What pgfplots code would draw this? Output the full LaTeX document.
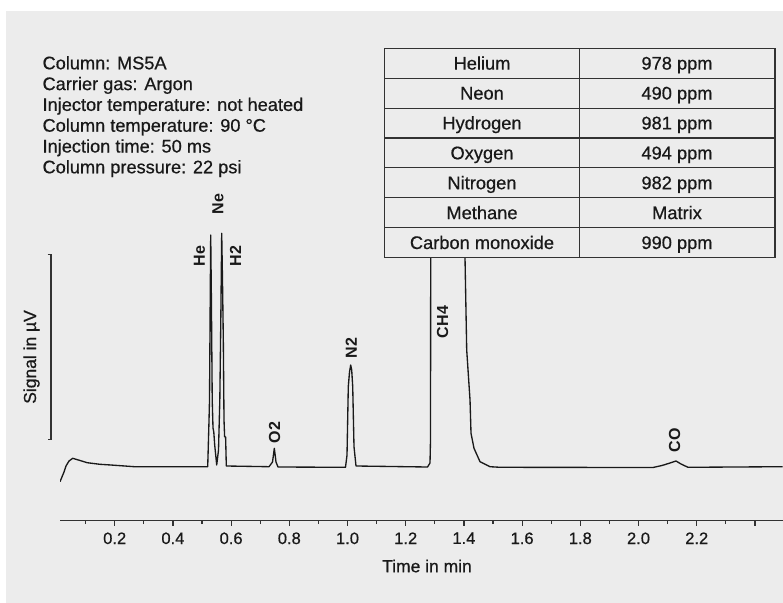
\documentclass[border=0pt]{standalone}
\usepackage{pgfplots}
\pgfplotsset{compat=1.18}
\usepackage{fontspec}
\setmainfont{Liberation Sans}[BoldFont={Liberation Sans}, BoldFeatures={FakeBold=0.6}]
\newfontfamily\peakfont{Liberation Sans Bold}
\definecolor{bg}{RGB}{236,236,236}
\definecolor{ink}{RGB}{25,25,25}
\definecolor{lin}{RGB}{50,50,50}
\newcommand{\fs}[1]{\fontsize{#1}{#1}\selectfont\bfseries}
\begin{document}
\begin{tikzpicture}
\begin{scope}[x=0.75pt,y=-0.75pt]
\fill[white] (0,0) rectangle (783,603);
\fill[bg] (6,11) rectangle (783,603);
\end{scope}
\begin{axis}[
  at={(45pt,-390.525pt)}, anchor=south west,
  scale only axis, width=541.875pt, height=360pt,
  xmin=0.012, xmax=2.4948, ymin=0, ymax=480,
  axis y line=none, axis x line*=bottom,
  x axis line style={-, line width=1.1pt, color=lin},
  xtick={0.2,0.4,0.6,0.8,1.0,1.2,1.4,1.6,1.8,2.0,2.2,2.4},
  xticklabels={0.2,0.4,0.6,0.8,1.0,1.2,1.4,1.6,1.8,2.0,2.2,{}},
  minor xtick={0.1,0.3,0.5,0.7,0.9,1.1,1.3,1.5,1.7,1.9,2.1,2.3},
  tick align=outside, major tick length=3.6pt, minor tick length=2.6pt,
  xtick style={color=lin, line width=0.9pt},
  minor x tick style={color=lin, line width=0.8pt},
  xticklabel style={font=\fs{12.4pt}, text=ink, yshift=-1.7pt},
  /pgf/number format/assume math mode=true,
]
\addplot[color=ink, line width=1pt, line join=round] coordinates {
(0.0120,39.0) (0.0258,48.7) (0.0326,54.7) (0.0430,59.7) (0.0557,62.4)
(0.0808,60.2) (0.1055,58.0) (0.1495,56.4) (0.1866,55.7) (0.2677,54.0)
(0.5172,54.0) (0.5196,54.0) (0.5241,100.7) (0.5258,120.7) (0.5282,220.7)
(0.5299,285.7) (0.5323,220.7) (0.5351,120.7) (0.5378,92.7) (0.5405,88.7)
(0.5436,75.7) (0.5505,55.7) (0.5567,70.7) (0.5612,120.7) (0.5646,200.7)
(0.5677,287.4) (0.5704,240.7) (0.5732,180.7) (0.5756,100.7) (0.5777,84.0)
(0.5811,83.7) (0.5835,54.7) (0.7302,54.0)
(0.7423,58.7) (0.7485,72.4) (0.7543,58.7) (0.7612,53.7)
(0.9931,53.4) (0.9983,65.7) (1.0027,134.0) (1.0069,148.7) (1.0110,155.7)
(1.0144,150.7) (1.0179,134.0) (1.0223,74.0) (1.0292,54.7)
(1.2749,53.7) (1.2835,57.7) (1.2852,80.7) (1.2859,262.7) (1.2870,370.7)
(1.3179,410.7) (1.3694,400.7) (1.4038,262.7) (1.4096,170.7) (1.4210,120.7)
(1.4244,87.4) (1.4347,72.4) (1.4553,59.0) (1.4897,54.0) (1.5241,53.4)
(2.0498,53.2) (2.0808,55.2) (2.1082,57.7) (2.1289,59.7) (2.1460,56.7)
(2.1701,53.4) (2.4948,54.0)
};
\end{axis}
\begin{scope}[x=0.75pt,y=-0.75pt]
% y bracket
\draw[lin, line width=0.9pt] (47.7,254.3) -- (51,254.3) -- (51,439.3) -- (47.7,439.3);
\node[rotate=90, text=ink, font=\fs{13.1pt}] at (31.5,357) {Signal in µV};
\node[text=ink, font=\fs{13.1pt}] at (427,566) {Time in min};
% info text
\foreach \t [count=\i from 0] in {Column: MS5A,Carrier gas: Argon,Injector temperature: not heated,Column temperature: 90 °C,Injection time: 50 ms,Column pressure: 22 psi}
  \node[anchor=base west, inner sep=0pt, text=ink, font=\fs{13.65pt}] at (42.3,{69.3+20.8*\i}) {\t};
% peak labels
\begin{scope}[font=\peakfont\fontsize{12pt}{12pt}\selectfont, text=ink]
\node[rotate=90] at (199.5,256) {He};
\node[rotate=90] at (218,204) {Ne};
\node[rotate=90] at (235.5,256) {H2};
\node[rotate=90] at (274.7,432.5) {O2};
\node[rotate=90] at (351.2,348.3) {N2};
\node[rotate=90] at (442.7,322) {CH4};
\node[rotate=90] at (674.7,440) {CO};
\end{scope}
% table
\fill[bg] (384.7,48.3) rectangle (775,257.7);
\draw[lin, line width=0.8pt] (384.7,48.3) rectangle (775,257.7);
\foreach \k in {1,...,6} \draw[lin, line width=0.8pt] (384.7,{48.3+29.9*\k}) -- (775,{48.3+29.9*\k});
\draw[lin, line width=0.8pt] (579.3,48.3) -- (579.3,257.7);
\foreach \a/\b [count=\i from 0] in {Helium/978 ppm,Neon/490 ppm,Hydrogen/981 ppm,Oxygen/494 ppm,Nitrogen/982 ppm,Methane/Matrix,Carbon monoxide/990 ppm}{
  \node[anchor=base, inner sep=0pt, text=ink, font=\fs{13.7pt}] at (482,{69.6+29.9*\i}) {\a};
  \node[anchor=base, inner sep=0pt, text=ink, font=\fs{13.7pt}] at (677,{69.6+29.9*\i}) {\b};
}
\pgfresetboundingbox
\useasboundingbox (0,0) rectangle (783,603);
\end{scope}
\end{tikzpicture}
\end{document}
